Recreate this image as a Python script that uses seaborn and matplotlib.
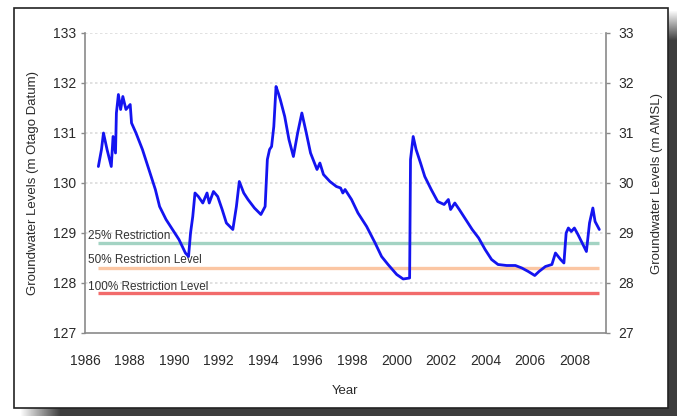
import numpy as np
import pandas as pd
import matplotlib
matplotlib.use("Agg")
import matplotlib.pyplot as plt
import seaborn as sns

sns.set_theme(style="white")
plt.rcParams["font.family"] = ["Liberation Sans", "DejaVu Sans"]

# Groundwater level record (decimal year, m Otago Datum)
years = [1986.60, 1986.74, 1986.83, 1986.99, 1987.18, 1987.26, 1987.37, 1987.41,
         1987.50, 1987.60, 1987.70, 1987.84, 1988.03, 1988.09, 1988.29, 1988.58,
         1988.87, 1989.16, 1989.35, 1989.64, 1989.93, 1990.22, 1990.51, 1990.65,
         1990.74, 1990.84, 1990.94, 1991.09, 1991.29, 1991.48, 1991.58, 1991.77,
         1991.96, 1992.16, 1992.35, 1992.64, 1992.80, 1992.93, 1993.13, 1993.32,
         1993.61, 1993.90, 1994.09, 1994.19, 1994.29, 1994.38, 1994.48, 1994.58,
         1994.68, 1994.77, 1994.97, 1995.16, 1995.36, 1995.55, 1995.74, 1995.94,
         1996.13, 1996.42, 1996.55, 1996.71, 1997.00, 1997.29, 1997.48, 1997.58,
         1997.68, 1997.97, 1998.26, 1998.65, 1999.03, 1999.32, 1999.61, 2000.00,
         2000.29, 2000.58, 2000.62, 2000.74, 2000.87, 2001.07, 2001.26, 2001.55,
         2001.84, 2002.13, 2002.32, 2002.42, 2002.61, 2002.81, 2003.10, 2003.39,
         2003.68, 2003.97, 2004.26, 2004.55, 2004.94, 2005.33, 2005.62, 2005.91,
         2006.20, 2006.39, 2006.68, 2006.97, 2007.13, 2007.36, 2007.51, 2007.61,
         2007.71, 2007.84, 2007.98, 2008.14, 2008.33, 2008.52, 2008.66, 2008.81,
         2008.91, 2009.10]
levels = [130.33, 130.67, 131.00, 130.67, 130.33, 130.93, 130.60, 131.40,
          131.77, 131.47, 131.73, 131.47, 131.57, 131.20, 131.00, 130.67,
          130.27, 129.87, 129.53, 129.27, 129.07, 128.87, 128.60, 128.53,
          129.00, 129.33, 129.80, 129.73, 129.60, 129.80, 129.60, 129.83,
          129.73, 129.47, 129.20, 129.07, 129.53, 130.03, 129.80, 129.67,
          129.50, 129.37, 129.53, 130.47, 130.67, 130.73, 131.13, 131.93,
          131.80, 131.67, 131.33, 130.87, 130.53, 131.00, 131.40, 131.00,
          130.60, 130.27, 130.40, 130.17, 130.03, 129.93, 129.90, 129.80,
          129.87, 129.67, 129.40, 129.13, 128.80, 128.53, 128.37, 128.17,
          128.08, 128.10, 130.47, 130.93, 130.67, 130.40, 130.13, 129.87,
          129.63, 129.57, 129.67, 129.47, 129.60, 129.47, 129.27, 129.07,
          128.90, 128.67, 128.47, 128.37, 128.35, 128.35, 128.30, 128.23,
          128.15, 128.23, 128.33, 128.37, 128.60, 128.47, 128.40, 129.00,
          129.10, 129.03, 129.10, 128.97, 128.80, 128.63, 129.20, 129.50,
          129.23, 129.07]

# Restriction trigger levels
restriction_labels = ["25% Restriction", "50% Restriction Level", "100% Restriction Level"]
restriction_levels = [128.8, 128.3, 127.8]
restriction_label_y = [128.94, 128.46, 127.92]
restriction_colors = ["#a3d3c3", "#fbc6a3", "#f26b6b"]
restriction_span = [1986.6, 2009.1]

W, H = 677, 416
fig = plt.figure(figsize=(W / 100, H / 100), dpi=100)
fig.patch.set_facecolor("white")

# Drop shadow behind the framed panel
shadow = np.zeros((H, W, 4))
shadow[..., :3] = 0.24
yy, xx = np.mgrid[0:H, 0:W]
alpha = np.zeros((H, W))
alpha = np.where((xx >= 668) & (yy >= 10), np.clip((yy - 10) / 30.0, 0, 1), alpha)
alpha = np.where((yy >= 408) & (xx >= 20), np.clip((xx - 20) / 40.0, 0, 1), alpha)
shadow[..., 3] = alpha
fig.figimage(shadow, xo=0, yo=0, origin="upper", zorder=0)

frame = plt.Rectangle((14 / W, 1 - 408 / H), (668 - 14) / W, (408 - 8) / H,
                      transform=fig.transFigure, facecolor="white",
                      edgecolor="#222222", linewidth=1.2, zorder=1)
fig.patches.append(frame)

ax = fig.add_axes([85 / W, 1 - 333 / H, (606 - 85) / W, 300 / H])
ax.set_zorder(2)
ax.patch.set_alpha(0)

df = pd.DataFrame({"Year": years, "Level": levels})
sns.lineplot(data=df, x="Year", y="Level", ax=ax, color="#1414f0",
             linewidth=2.0, zorder=5, estimator=None, sort=False)

for lab, lev, ly, col in zip(restriction_labels, restriction_levels,
                             restriction_label_y, restriction_colors):
    ax.plot(restriction_span, [lev, lev], color=col, linewidth=2.4, zorder=3,
            solid_capstyle="butt")
    ax.text(1986.15, ly, lab, fontsize=8.5, color="#333333", va="center",
            ha="left", zorder=4)

ax.set_xlim(1986, 2009.4)
ax.set_ylim(127, 133)
ax.set_xticks(np.arange(1986, 2009, 2))
ax.set_xticks(np.arange(1986, 2010, 1), minor=True)
ax.set_yticks(np.arange(127, 134, 1))
for y in range(128, 134):
    ax.axhline(y, color="#dcdcdc", linestyle=(0, (1.5, 1.5)), linewidth=1.2, zorder=1)

for side in ["top", "right"]:
    ax.spines[side].set_visible(False)
for side in ["left", "bottom"]:
    ax.spines[side].set_color("#8a8a8a")
    ax.spines[side].set_linewidth(1.2)

ax.tick_params(axis="both", which="both", direction="out", color="#8a8a8a",
               labelsize=10, labelcolor="#2a2a2a", length=3, width=1)
ax.tick_params(axis="x", which="major", pad=12)
ax.set_xlabel("Year", fontsize=9.5, color="#2a2a2a", labelpad=12)
ax.set_ylabel("Groundwater Levels (m Otago Datum)", fontsize=9.5,
              color="#2a2a2a", labelpad=10)

ax2 = ax.twinx()
ax2.set_ylim(27, 33)
ax2.set_yticks(np.arange(27, 34, 1))
for side in ["top", "left", "bottom"]:
    ax2.spines[side].set_visible(False)
ax2.spines["right"].set_color("#8a8a8a")
ax2.spines["right"].set_linewidth(1.2)
ax2.tick_params(axis="y", direction="out", color="#8a8a8a", labelsize=10,
                labelcolor="#2a2a2a", length=3, width=1, pad=6)
ax2.set_ylabel("Groundwater Levels (m AMSL)", fontsize=9.5, color="#2a2a2a",
               labelpad=12)

fig.savefig("out.png", dpi=100)
